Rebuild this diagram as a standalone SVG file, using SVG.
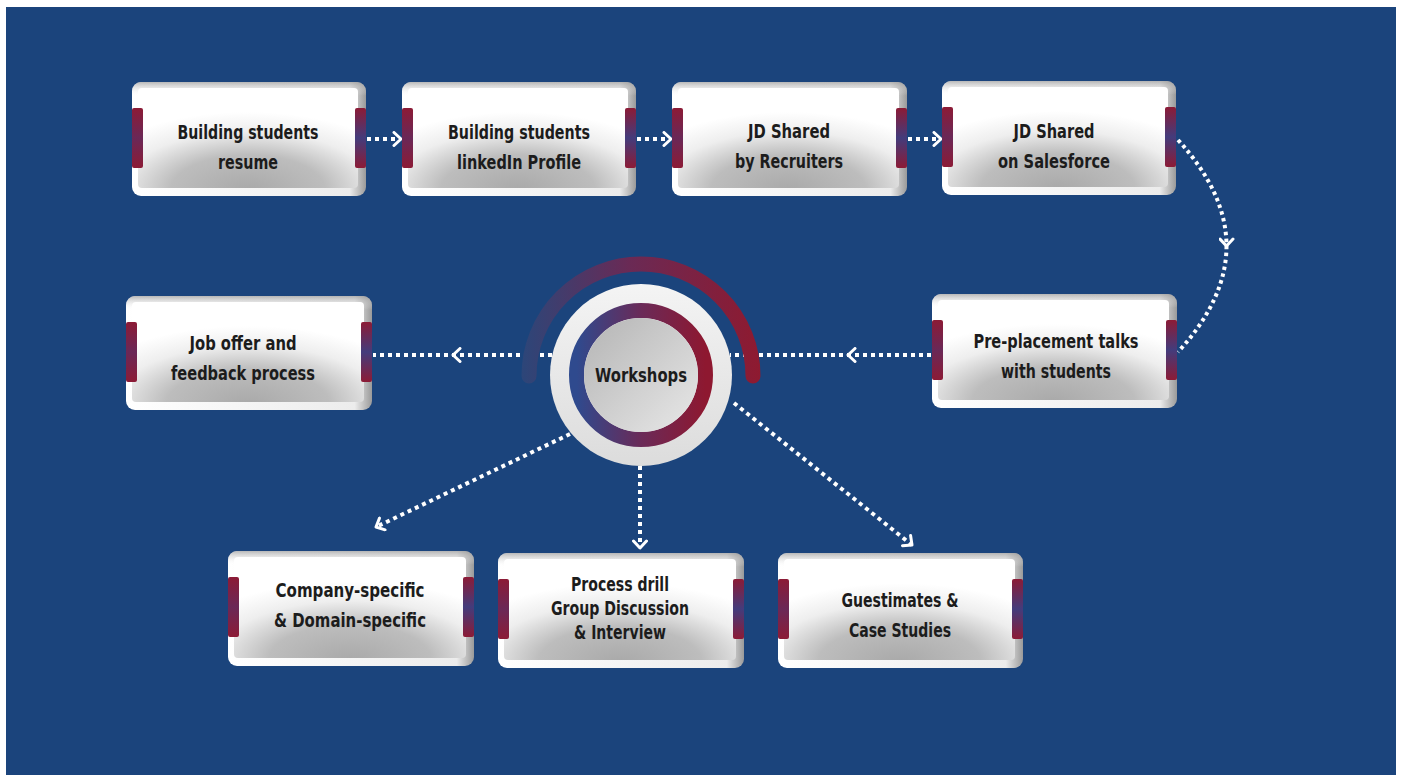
<svg xmlns="http://www.w3.org/2000/svg" width="1402" height="775" viewBox="0 0 1402 775">
<defs>
<linearGradient id="frameG" x1="0" y1="0" x2="1" y2="0">
<stop offset="0" stop-color="#ffffff"/><stop offset="0.93" stop-color="#ececec"/><stop offset="1" stop-color="#9a9a9a"/>
</linearGradient>
<linearGradient id="frameTop" x1="0" y1="0" x2="0" y2="1">
<stop offset="0" stop-color="#9a9a9a" stop-opacity="0.7"/><stop offset="0.12" stop-color="#ffffff" stop-opacity="0"/><stop offset="1" stop-color="#ffffff" stop-opacity="0"/>
</linearGradient>
<radialGradient id="panelG" cx="0.5" cy="1.02" r="0.78">
<stop offset="0" stop-color="#a9a9a9"/><stop offset="0.45" stop-color="#bdbdbd"/><stop offset="0.75" stop-color="#eeeeee"/><stop offset="1" stop-color="#ffffff"/>
</radialGradient>
<linearGradient id="tabL" x1="0" y1="0" x2="0" y2="1">
<stop offset="0" stop-color="#8c1b36"/><stop offset="0.5" stop-color="#6a2857"/><stop offset="1" stop-color="#8c1b36"/>
</linearGradient>
<linearGradient id="tabR" x1="0" y1="0" x2="0" y2="1">
<stop offset="0" stop-color="#8c1b36"/><stop offset="0.5" stop-color="#433c7c"/><stop offset="1" stop-color="#8c1b36"/>
</linearGradient>
<linearGradient id="arcG" gradientUnits="userSpaceOnUse" x1="522" y1="0" x2="760" y2="0">
<stop offset="0" stop-color="#2c4679"/><stop offset="0.45" stop-color="#6a2a55"/><stop offset="1" stop-color="#8e1a30"/>
</linearGradient>
<linearGradient id="ringG" x1="0" y1="0" x2="1" y2="0">
<stop offset="0" stop-color="#2f4a8e"/><stop offset="0.5" stop-color="#6a2a58"/><stop offset="1" stop-color="#8e1830"/>
</linearGradient>
<linearGradient id="outerC" x1="0" y1="0" x2="0" y2="1">
<stop offset="0" stop-color="#f4f4f4"/><stop offset="1" stop-color="#dcdcdc"/>
</linearGradient>
<linearGradient id="innerC" x1="0" y1="0" x2="1" y2="1">
<stop offset="0" stop-color="#b4b4b4"/><stop offset="1" stop-color="#e8e8e8"/>
</linearGradient>
<marker id="chev" markerUnits="userSpaceOnUse" markerWidth="16" markerHeight="16" viewBox="0 0 16 16" refX="12" refY="8" orient="auto">
<path d="M5,1.5 L12,8 L5,14.5" fill="none" stroke="#ffffff" stroke-width="3" stroke-linecap="round" stroke-linejoin="round"/>
</marker>
</defs>
<style>
.frame{fill:url(#frameG)}
.ftop{fill:url(#frameTop)}
.panel{fill:url(#panelG)}
.tl{fill:url(#tabL)}
.tr{fill:url(#tabR)}
.lbl{font-family:"DejaVu Sans Condensed","DejaVu Sans",sans-serif;font-weight:bold;font-size:19px;fill:#1c1c1c;text-anchor:middle}
.dot{fill:none;stroke:#ffffff;stroke-width:4;stroke-dasharray:4 4}
</style>
<rect x="6" y="7" width="1390" height="768" fill="#1b447c"/>

<g id="connectors">
<path class="dot" d="M367,139 L401,139" marker-end="url(#chev)"/>
<path class="dot" d="M637,139 L671,139" marker-end="url(#chev)"/>
<path class="dot" d="M908,139 L941,139" marker-end="url(#chev)"/>
<path class="dot" style="stroke-dasharray:3.5 3.5" d="M1178,140 Q1226.5,193 1226.5,246 Q1226.5,299 1178,352" marker-mid="url(#chev)"/>
<path class="dot" d="M931,355 L848,355 L730,355" marker-mid="url(#chev)"/>
<path class="dot" d="M552,355 L453,355 L373,355" marker-mid="url(#chev)"/>
<path class="dot" d="M570,434 L376,527" marker-end="url(#chev)"/>
<path class="dot" d="M640,466 L640,548" marker-end="url(#chev)"/>
<path class="dot" d="M734,403 L912,545" marker-end="url(#chev)"/>
</g>

<g id="workshops">
<path d="M529,376 A112,112 0 0 1 753,376" fill="none" stroke="url(#arcG)" stroke-width="15" stroke-linecap="round"/>
<circle cx="641" cy="375" r="91" fill="url(#outerC)"/>
<circle cx="641" cy="375" r="64.5" fill="none" stroke="url(#ringG)" stroke-width="15"/>
<circle cx="641" cy="375" r="57" fill="url(#innerC)"/>
<text class="lbl" x="641" y="382" textLength="92" lengthAdjust="spacingAndGlyphs">Workshops</text>
</g>

<g id="n1">
<rect class="frame" x="132" y="82" width="234" height="114" rx="9"/>
<rect class="ftop" x="132" y="82" width="234" height="114" rx="9"/>
<rect class="panel" x="138" y="88" width="220" height="100" rx="4"/>
<rect class="tl" x="132" y="108" width="11" height="60" rx="2"/>
<rect class="tr" x="355" y="108" width="11" height="60" rx="2"/>
<text class="lbl" x="248" y="139" textLength="141" lengthAdjust="spacingAndGlyphs">Building students</text>
<text class="lbl" x="248" y="169" textLength="60" lengthAdjust="spacingAndGlyphs">resume</text>
</g>

<g id="n2">
<rect class="frame" x="402" y="82" width="234" height="114" rx="9"/>
<rect class="ftop" x="402" y="82" width="234" height="114" rx="9"/>
<rect class="panel" x="408" y="88" width="220" height="100" rx="4"/>
<rect class="tl" x="402" y="108" width="11" height="60" rx="2"/>
<rect class="tr" x="625" y="108" width="11" height="60" rx="2"/>
<text class="lbl" x="519" y="139" textLength="142" lengthAdjust="spacingAndGlyphs">Building students</text>
<text class="lbl" x="519" y="169" textLength="124" lengthAdjust="spacingAndGlyphs">linkedIn Profile</text>
</g>

<g id="n3">
<rect class="frame" x="672" y="82" width="235" height="114" rx="9"/>
<rect class="ftop" x="672" y="82" width="235" height="114" rx="9"/>
<rect class="panel" x="678" y="88" width="221" height="100" rx="4"/>
<rect class="tl" x="672" y="108" width="11" height="60" rx="2"/>
<rect class="tr" x="896" y="108" width="11" height="60" rx="2"/>
<text class="lbl" x="789" y="138" textLength="82" lengthAdjust="spacingAndGlyphs">JD Shared</text>
<text class="lbl" x="789" y="168" textLength="108" lengthAdjust="spacingAndGlyphs">by Recruiters</text>
</g>

<g id="n4">
<rect class="frame" x="942" y="81" width="234" height="114" rx="9"/>
<rect class="ftop" x="942" y="81" width="234" height="114" rx="9"/>
<rect class="panel" x="948" y="87" width="220" height="100" rx="4"/>
<rect class="tl" x="942" y="107" width="11" height="60" rx="2"/>
<rect class="tr" x="1165" y="107" width="11" height="60" rx="2"/>
<text class="lbl" x="1054" y="138" textLength="81" lengthAdjust="spacingAndGlyphs">JD Shared</text>
<text class="lbl" x="1054" y="168" textLength="112" lengthAdjust="spacingAndGlyphs">on Salesforce</text>
</g>

<g id="n5">
<rect class="frame" x="932" y="294" width="245" height="114" rx="9"/>
<rect class="ftop" x="932" y="294" width="245" height="114" rx="9"/>
<rect class="panel" x="938" y="300" width="231" height="100" rx="4"/>
<rect class="tl" x="932" y="320" width="11" height="60" rx="2"/>
<rect class="tr" x="1166" y="320" width="11" height="60" rx="2"/>
<text class="lbl" x="1056" y="348" textLength="165" lengthAdjust="spacingAndGlyphs">Pre-placement talks</text>
<text class="lbl" x="1056" y="378" textLength="110" lengthAdjust="spacingAndGlyphs">with students</text>
</g>

<g id="n6">
<rect class="frame" x="126" y="296" width="246" height="114" rx="9"/>
<rect class="ftop" x="126" y="296" width="246" height="114" rx="9"/>
<rect class="panel" x="132" y="302" width="232" height="100" rx="4"/>
<rect class="tl" x="126" y="322" width="11" height="60" rx="2"/>
<rect class="tr" x="361" y="322" width="11" height="60" rx="2"/>
<text class="lbl" x="243" y="350" textLength="107" lengthAdjust="spacingAndGlyphs">Job offer and</text>
<text class="lbl" x="243" y="380" textLength="144" lengthAdjust="spacingAndGlyphs">feedback process</text>
</g>

<g id="n7">
<rect class="frame" x="228" y="551" width="246" height="115" rx="9"/>
<rect class="ftop" x="228" y="551" width="246" height="115" rx="9"/>
<rect class="panel" x="234" y="557" width="232" height="101" rx="4"/>
<rect class="tl" x="228" y="577" width="11" height="60" rx="2"/>
<rect class="tr" x="463" y="577" width="11" height="60" rx="2"/>
<text class="lbl" x="350" y="597" textLength="149" lengthAdjust="spacingAndGlyphs">Company-specific</text>
<text class="lbl" x="350" y="627" textLength="152" lengthAdjust="spacingAndGlyphs">&amp; Domain-specific</text>
</g>

<g id="n8">
<rect class="frame" x="498" y="553" width="246" height="115" rx="9"/>
<rect class="ftop" x="498" y="553" width="246" height="115" rx="9"/>
<rect class="panel" x="504" y="559" width="232" height="101" rx="4"/>
<rect class="tl" x="498" y="579" width="11" height="60" rx="2"/>
<rect class="tr" x="733" y="579" width="11" height="60" rx="2"/>
<text class="lbl" x="620" y="591" textLength="98" lengthAdjust="spacingAndGlyphs">Process drill</text>
<text class="lbl" x="620" y="615" textLength="138" lengthAdjust="spacingAndGlyphs">Group Discussion</text>
<text class="lbl" x="620" y="639" textLength="92" lengthAdjust="spacingAndGlyphs">&amp; Interview</text>
</g>

<g id="n9">
<rect class="frame" x="778" y="553" width="245" height="115" rx="9"/>
<rect class="ftop" x="778" y="553" width="245" height="115" rx="9"/>
<rect class="panel" x="784" y="559" width="231" height="101" rx="4"/>
<rect class="tl" x="778" y="579" width="11" height="60" rx="2"/>
<rect class="tr" x="1012" y="579" width="11" height="60" rx="2"/>
<text class="lbl" x="900" y="607" textLength="117" lengthAdjust="spacingAndGlyphs">Guestimates &amp;</text>
<text class="lbl" x="900" y="637" textLength="102" lengthAdjust="spacingAndGlyphs">Case Studies</text>
</g>
</svg>
